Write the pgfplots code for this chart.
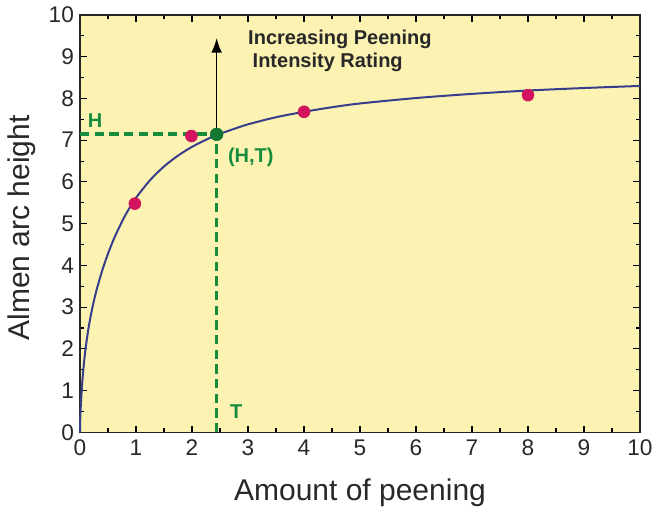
\documentclass[border=0pt]{standalone}
\usepackage{pgfplots}
\pgfplotsset{compat=1.18}
\usepackage{fontspec}
\setmainfont{Liberation Sans}
\usetikzlibrary{arrows.meta}
\definecolor{bgyellow}{RGB}{252,242,178}
\definecolor{curveblue}{RGB}{55,62,140}
\definecolor{ptmag}{RGB}{210,20,95}
\definecolor{dgreen}{RGB}{22,140,60}
\definecolor{txt}{RGB}{40,40,40}
\begin{document}
\begin{tikzpicture}
\begin{axis}[
  scale only axis, width=420pt, height=313pt,
  xmin=0, xmax=10, ymin=0, ymax=10,
  xtick={0,...,10}, ytick={0,...,10},
  minor tick num=1,
  tick align=inside, tick pos=both,
  major tick length=5pt, minor tick length=3pt,
  every tick/.style={black, line width=0.8pt},
  axis line style={black!85, line width=1.1pt},
  axis background/.style={fill=bgyellow},
  /pgf/number format/assume math mode=true,
  tick label style={font=\fontsize{17}{17}\selectfont, text=txt},
  xticklabel style={yshift=-2pt},
  yticklabel style={xshift=-1pt},
  xlabel={Amount of peening}, ylabel={Almen arc height},
  label style={font=\fontsize{22.5}{22.5}\selectfont, text=txt},
  xlabel style={at={(axis description cs:0.5,-0.144)}, anchor=center},
  ylabel style={at={(axis description cs:-0.1036,0.49)}, anchor=center, rotate=0},
  clip=false,
]
% curve
\addplot[curveblue, line width=1.5pt, smooth] coordinates {
(0,0) (0.005,0.34) (0.01,0.51) (0.02,0.78) (0.04,1.19) (0.07,1.65) (0.1,2.01)
(0.15,2.48) (0.2,2.85) (0.25,3.16) (0.3,3.43) (0.4,3.89) (0.5,4.28) (0.6,4.62)
(0.7,4.91) (0.8,5.18) (0.9,5.41) (1,5.62) (1.25,6.04) (1.5,6.37) (1.75,6.63)
(2,6.84) (2.25,7.01) (2.45,7.13) (2.75,7.27) (3,7.38) (3.5,7.55) (4,7.68)
(4.5,7.79) (5,7.88) (6,8.01) (7,8.11) (8,8.19) (9,8.25) (10,8.3)};
% dashed guides
\addplot[dgreen, line width=2.7pt, dash pattern=on 7pt off 4pt] coordinates {(0,7.15) (2.44,7.15)};
\addplot[dgreen, line width=2.7pt, dash pattern=on 7pt off 4pt] coordinates {(2.44,0) (2.44,7.15)};
% arrow
\addplot[black, line width=1.2pt, -{Latex[length=11pt,width=8pt]}] coordinates {(2.44,7.2) (2.44,9.45)};
% data points
\addplot[only marks, mark=*, mark size=4.5pt, color=ptmag] coordinates {(0.98,5.48) (1.99,7.1) (4,7.68) (8,8.08)};
\addplot[only marks, mark=*, mark size=4.8pt, color=dgreen!85!black] coordinates {(2.44,7.14)};
% labels
\node[text=dgreen, font=\fontsize{15}{15}\selectfont\bfseries] at (axis cs:0.27,7.48) {H};
\node[text=dgreen, font=\fontsize{15}{15}\selectfont\bfseries] at (axis cs:2.79,0.5) {T};
\node[text=dgreen, font=\fontsize{15}{15}\selectfont\bfseries, anchor=west] at (axis cs:2.56,6.59) {(H,T)};
\node[text=txt, font=\fontsize{15}{15}\selectfont\bfseries, anchor=west] at (axis cs:2.92,9.42) {Increasing Peening};
\node[text=txt, font=\fontsize{15}{15}\selectfont\bfseries, anchor=west] at (axis cs:3.0,8.86) {Intensity Rating};
\end{axis}
\pgfresetboundingbox
\path (-60pt,-63.75pt) rectangle (433.5pt,324.25pt);
\end{tikzpicture}
\end{document}
